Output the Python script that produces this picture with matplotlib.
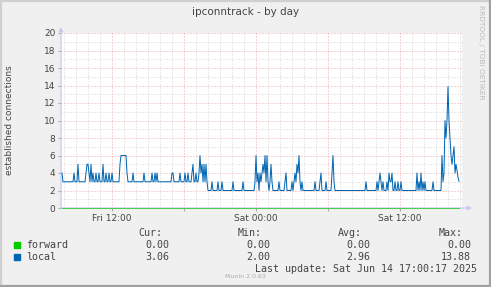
import numpy as np
import matplotlib
matplotlib.use("Agg")
import matplotlib.pyplot as plt
import matplotlib.dates as mdates
from matplotlib.patches import Rectangle
from matplotlib.lines import Line2D
from matplotlib.ticker import FuncFormatter, MultipleLocator
from datetime import datetime, timedelta

# 5 minute samples, first one at Fri 13 Jun 2025 07:50
start = datetime(2025, 6, 13, 7, 50)
step_min = 5

local = [
    4, 3, 3, 3, 3, 3, 3, 3, 3, 3, 3, 3, 4, 3, 3, 3, 5, 3, 3, 3,
    3, 3, 3, 3, 4, 5, 5, 4, 3, 5, 3, 4, 3, 3, 4, 3, 3, 4, 3, 3,
    3, 5, 3, 3, 4, 3, 3, 4, 3, 3, 4, 3, 3, 3, 3, 3, 3, 3, 5, 6,
    6, 6, 6, 6, 6, 4, 3, 3, 3, 3, 3, 4, 3, 3, 3, 3, 3, 3, 3, 3,
    3, 3, 4, 3, 3, 3, 3, 3, 3, 3, 4, 3, 3, 4, 3, 4, 3, 3, 3, 3,
    3, 3, 3, 3, 3, 3, 3, 3, 3, 3, 4, 4, 3, 3, 3, 3, 3, 3, 4, 3,
    3, 3, 3, 4, 3, 3, 4, 3, 3, 3, 4, 5, 3, 3, 4, 3, 3, 4, 6, 4,
    5, 3, 5, 3, 5, 3, 2, 2, 2, 2, 3, 2, 2, 2, 2, 2, 3, 2, 2, 2,
    3, 2, 2, 2, 2, 2, 2, 2, 2, 2, 2, 3, 2, 2, 2, 2, 2, 2, 2, 2,
    2, 3, 2, 2, 2, 2, 2, 2, 2, 2, 2, 2, 2, 3, 6, 3, 4, 2, 4, 3,
    4, 5, 4, 6, 3, 6, 3, 2, 3, 5, 3, 2, 2, 2, 2, 2, 2, 3, 2, 2,
    2, 2, 2, 3, 4, 2, 2, 2, 2, 2, 3, 2, 3, 4, 3, 5, 4, 6, 3, 2,
    3, 2, 2, 2, 2, 2, 2, 2, 2, 2, 2, 2, 2, 3, 2, 2, 2, 2, 3, 4,
    2, 2, 2, 2, 3, 2, 2, 2, 2, 2, 4, 6, 3, 2, 2, 2, 2, 2, 2, 2,
    2, 2, 2, 2, 2, 2, 2, 2, 2, 2, 2, 2, 2, 2, 2, 2, 2, 2, 2, 2,
    2, 2, 2, 2, 3, 2, 2, 2, 2, 2, 2, 2, 2, 2, 2, 3, 2, 3, 4, 3,
    2, 3, 2, 2, 2, 3, 2, 4, 3, 3, 4, 2, 2, 3, 2, 2, 3, 2, 2, 3,
    2, 2, 2, 2, 2, 2, 2, 2, 2, 2, 2, 2, 2, 2, 2, 4, 2, 3, 2, 4,
    2, 3, 2, 3, 2, 2, 2, 2, 2, 2, 2, 3, 2, 2, 2, 2, 2, 2, 2, 2,
    6, 3, 4, 10, 8, 10, 13.88, 10, 8, 6, 5, 6, 7, 4, 5, 4.3, 3.5, 3.06,
]
forward = [0.0] * len(local)

series_names = ["forward", "local"]
series_colors = ["#00CC00", "#0066B3"]
stat_cur = ["0.00", "3.06"]
stat_min = ["0.00", "2.00"]
stat_avg = ["0.00", "2.96"]
stat_max = ["0.00", "13.88"]

times = [start + timedelta(minutes=step_min * i) for i in range(len(local))]

W, H = 491, 287
fig = plt.figure(figsize=(W / 100, H / 100), dpi=100, facecolor="#F0F0F0")
ax = fig.add_axes([61 / W, 1 - 208 / H, 401 / W, 175 / H])
ax.set_facecolor("white")

x0 = start - timedelta(minutes=5)
x1 = start + timedelta(minutes=step_min * 400)
ax.set_xlim(x0, x1)
ax.set_ylim(0, 20)

# grid: red major, grey minor, both dotted
ax.xaxis.set_major_locator(mdates.HourLocator(byhour=[0, 6, 12, 18]))
ax.xaxis.set_minor_locator(mdates.HourLocator())
ax.yaxis.set_major_locator(MultipleLocator(2))
ax.yaxis.set_minor_locator(MultipleLocator(1))

def xlab(v, pos):
    d = mdates.num2date(v)
    if d.hour in (0, 12):
        return d.strftime("%a %H:%M")
    return ""

ax.xaxis.set_major_formatter(FuncFormatter(xlab))
ax.yaxis.set_major_formatter(FuncFormatter(lambda v, p: "%d" % v))

ax.grid(which="minor", color="#D4D4D4", linestyle=(0, (1, 2)), linewidth=0.72)
ax.grid(which="major", color="#F2A8A8", linestyle=(0, (1, 2)), linewidth=0.72)
ax.set_axisbelow(True)

for s in ax.spines.values():
    s.set_visible(False)

ax.tick_params(axis="both", which="major", length=2, color="#AAAAAA",
               labelsize=6.5, labelcolor="#444444", pad=2)
ax.tick_params(axis="both", which="minor", length=0)

# axes with arrows
axis_col = "#C8C8F0"
ax.annotate("", xy=(0, 1 + 6 / 175), xytext=(0, 0), xycoords="axes fraction",
            arrowprops=dict(arrowstyle="-|>", color=axis_col, lw=0.9,
                            mutation_scale=6, shrinkA=0, shrinkB=0),
            annotation_clip=False)
ax.annotate("", xy=(1 + 10 / 401, 0), xytext=(0, 0), xycoords="axes fraction",
            arrowprops=dict(arrowstyle="-|>", color=axis_col, lw=0.9,
                            mutation_scale=6, shrinkA=0, shrinkB=0),
            annotation_clip=False)

ax.plot(times, forward, color=series_colors[0], lw=0.7, alpha=0.7,
        clip_on=False, zorder=3)
ax.plot(times, local, color=series_colors[1], lw=0.72, zorder=4)

txt = "#444444"
fig.text(246 / W, 1 - 12 / H, "ipconntrack - by day", ha="center", va="center",
         fontsize=7.5, color=txt)
fig.text(10 / W, 1 - 120 / H, "established connections", ha="center", va="center",
         rotation=90, fontsize=6.5, color=txt)
fig.text(481 / W, 1 - 5 / H, "RRDTOOL / TOBI OETIKER", ha="center", va="top",
         rotation=270, fontsize=5.3, color="#BBBBBB")

# legend block
mono = "DejaVu Sans Mono"
fs = 7.2
cols = [(162, "Cur:", stat_cur, 169), (262, "Min:", stat_min, 270),
        (362, "Avg:", stat_avg, 370), (463, "Max:", stat_max, 471)]
for hx, head, vals, vx in cols:
    fig.text(hx / W, 1 - 233 / H, head, ha="right", va="center",
             family=mono, fontsize=fs, color=txt)
    for k, v in enumerate(vals):
        fig.text(vx / W, 1 - (245 + 12 * k) / H, v, ha="right", va="center",
                 family=mono, fontsize=fs, color=txt)
for k, (name, col) in enumerate(zip(series_names, series_colors)):
    y = 245 + 12 * k
    fig.patches.append(Rectangle((14 / W, 1 - (y + 3) / H), 6 / W, 6 / H,
                                 transform=fig.transFigure, color=col))
    fig.text(26 / W, 1 - y / H, name, ha="left", va="center",
             family=mono, fontsize=fs, color=txt)

fig.text(245 / W, 1 - 276 / H, "Munin 2.0.63", ha="center", va="center",
         fontsize=4.5, color="#AAAAAA")
fig.text(477 / W, 1 - 269 / H, "Last update: Sat Jun 14 17:00:17 2025",
         ha="right", va="center", family=mono, fontsize=fs, color=txt)

# frame round the picture
light, dark = "#D0D0D0", "#A0A0A0"
for xs, ys, c in [([0, 1], [1 - 1 / H, 1 - 1 / H], light),
                  ([1 / W, 1 / W], [0, 1], light),
                  ([0, 1], [1 / H, 1 / H], dark),
                  ([1 - 1 / W, 1 - 1 / W], [0, 1], dark)]:
    fig.add_artist(Line2D(xs, ys, transform=fig.transFigure, color=c, lw=1.6))

fig.savefig("out.png", dpi=100, facecolor=fig.get_facecolor())
